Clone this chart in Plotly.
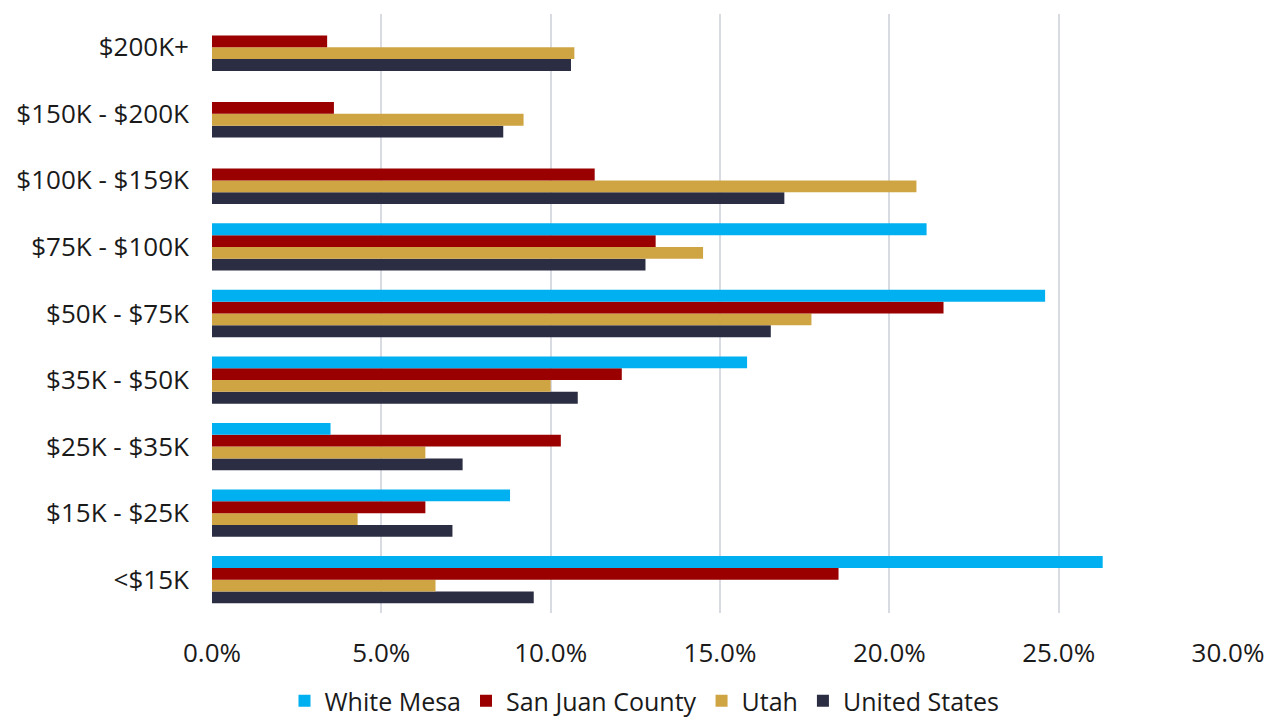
import plotly.graph_objects as go

categories = ["<$15K", "$15K - $25K", "$25K - $35K", "$35K - $50K", "$50K - $75K",
              "$75K - $100K", "$100K - $159K", "$150K - $200K", "$200K+"]
white_mesa = [26.3, 8.8, 3.5, 15.8, 24.6, 21.1, None, None, None]
san_juan = [18.5, 6.3, 10.3, 12.1, 21.6, 13.1, 11.3, 3.6, 3.4]
utah = [6.6, 4.3, 6.3, 10.0, 17.7, 14.5, 20.8, 9.2, 10.7]
united_states = [9.5, 7.1, 7.4, 10.8, 16.5, 12.8, 16.9, 8.6, 10.6]
x_ticks = [0, 5, 10, 15, 20, 25, 30]

series = [
    ("United States", united_states, "#2B2D42"),
    ("Utah", utah, "#CFA544"),
    ("San Juan County", san_juan, "#9A0000"),
    ("White Mesa", white_mesa, "#00B0F0"),
]

fig = go.Figure()
for name, vals, color in series:
    fig.add_trace(go.Bar(
        y=categories, x=vals, name=name, orientation="h",
        marker=dict(color=color, line=dict(width=0)),
    ))

font_family = "'Open Sans', Lato, sans-serif"
fig.update_layout(
    width=1273, height=716,
    barmode="group", bargap=0.29, bargroupgap=0,
    plot_bgcolor="white", paper_bgcolor="white",
    margin=dict(l=204, r=53, t=6, b=111),
    font=dict(family=font_family, size=26, color="#1a1a1a"),
    legend=dict(orientation="h", traceorder="reversed", x=0.5, xanchor="center",
                xref="container", y=-0.013, yanchor="bottom", yref="container",
                font=dict(size=25), itemwidth=30, tracegroupgap=0),
    xaxis=dict(range=[0, 30], tickvals=x_ticks,
               ticktext=[f"{v:.1f}%" for v in x_ticks],
               showgrid=True, gridcolor="#D9DBE3", gridwidth=2,
               zeroline=False, showline=False, ticks="",
               ticklabelstandoff=22),
    yaxis=dict(showgrid=False, zeroline=False, showline=False, ticks="",
               ticklabelstandoff=22),
)
fig.write_html("out.html")
